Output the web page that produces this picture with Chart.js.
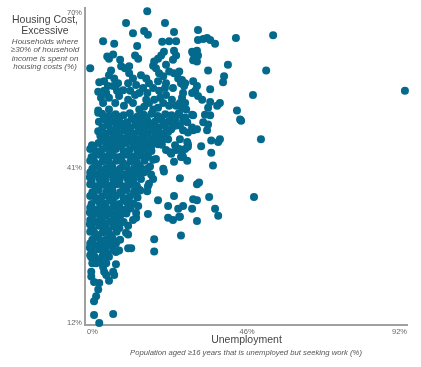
<!DOCTYPE html>
<html><head><meta charset="utf-8">
<script src="https://cdn.jsdelivr.net/npm/chart.js@4/dist/chart.umd.min.js"></script>
<style>html,body{margin:0;padding:0;background:#fff}</style>
</head><body>
<canvas id="c" width="421" height="367"></canvas>
<script>
// Tick labels
const xTickValues = [0, 46, 92];
const yTickValues = [12, 41, 70];

// Texts
const yTitle = ["Housing Cost,", "Excessive"];
const ySubtitle = ["Households where", "\u226530% of household", "income is spent on", "housing costs (%)"];
const xTitle = "Unemployment";
const xSubtitle = "Population aged \u226516 years that is unemployed but seeking work (%)";

// Each county: [unemployment %, excessive housing cost %]
const upperCounties = [
[17.3,70.4],[11.2,68.2],[22.4,68.2],[13.2,66.3],[16.4,66.7],[17.5,66.0],[25.0,66.5],[4.6,64.8],[7.8,64.3],[14.4,63.9],[21.6,64.7],[23.6,64.8],[25.6,64.8],[0.9,59.7],[5.8,61.9],[6.3,61.5],[7.5,62.3],[9.5,61.3],[13.8,62.1],[14.7,61.5],[22.1,62.8],[21.3,62.1],[20.4,61.5],[25.0,63.0],[25.6,62.1],[24.7,61.3],[19.3,61.0],[19.0,60.2],[22.7,60.4],[9.8,60.1],[10.9,59.7],[12.1,60.1],[6.9,59.3],[3.5,57.1],[3.2,55.3],[6.3,58.4],[7.8,57.8],[8.9,56.9],[7.5,56.4],[6.0,56.4],[5.5,55.1],[6.3,54.2],[12.1,58.8],[13.2,57.8],[11.8,56.9],[14.1,56.6],[15.5,58.4],[17.0,57.8],[17.8,56.9],[16.1,56.0],[15.0,55.1],[19.8,59.7],[20.7,58.8],[21.9,58.2],[20.4,57.3],[22.7,56.9],[23.6,59.1],[25.0,58.8],[26.5,59.1],[26.2,57.8],[27.0,56.9],[24.7,56.0],[19.0,56.0],[20.7,55.5],[22.7,54.7],[19.3,53.8],[21.9,53.2],[23.6,52.7],[10.4,55.6],[9.2,54.5],[11.8,53.8],[13.2,53.2],[10.6,52.7],[3.2,51.8],[6.3,52.0],[15.0,52.0],[19.0,52.0],[27.6,52.7],[27.6,55.1],[27.9,56.4],[17.0,53.8],[17.8,53.2],
[4.9,57.3],[4.6,53.2],[8.1,53.2],[21.0,54.2],[20.4,52.3],[16.4,52.5],[13.8,54.7],[8.6,55.5],[4.0,54.2],[4.9,55.5],[12.4,55.5],[17.3,55.1],[24.4,53.8],[25.6,52.7],[22.4,56.0]
];

const rightCounties = [
[31.9,66.9],[31.9,65.0],[33.4,65.2],[34.5,65.4],[35.4,65.0],[36.8,64.3],[42.8,65.4],[53.5,65.9],[30.2,62.8],[31.6,63.0],[31.9,62.1],[30.5,62.5],[30.5,61.2],[31.6,61.0],[40.5,60.4],[34.8,59.3],[51.5,59.3],[39.4,58.2],[39.1,57.1],[27.3,57.5],[28.2,56.9],[30.5,57.3],[31.6,56.4],[31.1,55.5],[30.2,55.1],[31.9,54.5],[33.1,53.8],[35.4,55.8],[47.7,54.7],[27.3,54.2],[26.7,53.2],[28.2,53.2],[27.3,52.3],[35.4,53.4],[34.8,52.3],[33.9,51.0],[35.4,50.9],[37.4,52.7],[38.2,53.2],[43.1,51.8],[44.3,49.9],[30.5,50.9],[28.2,50.5],[28.8,49.6],[26.7,49.0],[27.6,48.1],[29.0,47.7],[30.5,48.1],[30.2,48.6],[31.6,48.3],[33.4,49.6],[34.8,49.2],[34.5,48.1],[26.7,46.4],[28.8,45.9],[29.0,45.0],[28.2,44.6],[35.7,46.2],[37.7,45.9],[38.2,46.4],[50.0,46.4],[32.8,45.1],[35.7,43.9],[27.6,43.1],[28.8,42.4],[36.2,41.5],
[26.7,39.1],[31.6,38.0],[32.2,38.3],[35.1,35.6],[48.0,35.6],[31.6,35.0],[30.2,33.4],[36.8,33.4],[37.7,32.1],[26.7,31.9],[31.6,31.1],[27.0,28.4],
[91.4,55.5]
];

const middleCounties = [
[3.2,51.4],[19.8,48.1],[21.3,47.2],[22.7,47.7],[24.2,48.3],[25.6,49.0],[27.6,49.9],[26.5,51.0],[28.5,52.0],[18.4,46.4],[19.3,46.2],[20.4,45.5],[18.4,45.0],[22.7,44.4],[24.2,43.7],[25.6,44.4],[27.0,43.1],[25.0,42.2],[17.5,43.5],[19.0,42.6],[19.8,42.7],[21.9,40.9],[22.1,40.4],[18.4,39.8],[19.0,39.0],[17.8,38.1],[17.5,37.6],[25.0,35.8],[20.4,35.0],[23.3,33.9],[26.2,33.4],[27.6,33.9],[11.8,34.3],[12.1,33.4],[14.7,33.9],[14.1,32.6],[44.0,50.1],[30.2,51.0],[29.0,45.5],[23.3,46.4],[25.3,45.3],[23.9,44.0],[26.5,44.6],[27.3,43.5],[30.5,35.2],[18.1,41.3],[17.3,36.7]
];

const lowerCounties = [
[17.5,32.4],[23.3,31.7],[24.7,31.3],[26.5,31.9],[19.3,27.7],[19.3,25.4],[14.1,31.7],[13.2,31.3],[11.8,30.2],[11.2,28.9],[11.8,28.6],[11.8,26.0],[12.7,26.0],[9.2,25.6],[8.3,25.3],[8.3,23.0],[7.5,21.6],[7.8,21.0],[6.3,19.9],[1.2,21.6],[1.2,20.7],[2.0,19.7],[3.5,19.5],[3.2,18.3],[2.6,17.0],[2.0,16.1],[2.0,13.5],[7.5,13.7],[3.5,12.0],[5.5,23.2],[4.6,22.5],[4.9,21.6],[5.5,21.0],[1.7,23.8],[2.6,23.2],[1.2,24.3],[3.7,23.4]
];

const coreCounties = [
[4.3,51.2],[6.4,50.8],[8.2,51.1],[10.5,50.9],[12.3,51.3],[14.5,50.7],[16.3,51.0],[18.5,51.2],[20.3,50.8],[22.5,51.1],[24.3,50.9],[26.4,51.3],
[3.4,49.7],[5.2,50.1],[7.4,49.8],[9.2,50.0],[11.5,49.6],[13.3,50.2],[15.5,49.8],[17.3,50.0],[19.5,49.7],[21.3,50.1],[23.5,49.8],[25.3,50.0],
[4.4,48.6],[6.2,49.0],[8.4,48.7],[10.3,48.9],[12.5,48.6],[14.3,49.0],[16.5,48.7],[18.3,48.9],[20.5,48.6],[22.3,49.0],[24.5,48.7],
[3.2,47.9],[5.4,47.5],[7.2,47.8],[9.4,47.6],[11.3,47.9],[13.5,47.5],[15.3,47.8],[17.5,47.6],[19.3,47.9],[21.5,47.5],[23.3,47.8],
[4.2,46.8],[6.4,46.4],[8.3,46.7],[10.5,46.5],[12.3,46.8],[14.5,46.4],[16.3,46.7],[18.5,46.5],[20.3,46.8],[22.4,46.5],
[1.4,45.3],[3.3,45.7],[5.5,45.4],[7.3,45.6],[9.5,45.3],[11.3,45.7],[13.5,45.4],[15.3,45.6],[17.5,45.3],[19.3,45.7],[21.5,45.4],
[0.9,44.6],[2.4,44.2],[4.3,44.5],[6.5,44.3],[8.3,44.6],[10.5,44.2],[12.3,44.5],[14.5,44.3],[16.3,44.6],[18.5,44.2],
[1.3,43.1],[3.5,43.5],[5.3,43.2],[7.5,43.4],[9.3,43.1],[11.5,43.5],[13.3,43.2],[15.5,43.4],[17.3,43.1],
[0.9,42.4],[2.3,42.0],[4.5,42.3],[6.3,42.1],[8.5,42.4],[10.3,42.0],[12.5,42.3],[14.3,42.1],[16.5,42.4],
[1.5,40.9],[3.3,41.3],[5.5,41.0],[7.3,41.2],[9.5,40.9],[11.3,41.3],[13.5,41.0],[15.3,41.2],[17.3,40.9],
[0.9,40.2],[2.5,39.8],[4.3,40.1],[6.5,39.9],[8.3,40.2],[10.5,39.8],[12.3,40.1],[14.5,39.9],[16.3,40.2],
[1.3,38.7],[3.5,39.1],[5.3,38.8],[7.5,39.0],[9.3,38.7],[11.5,39.1],[13.3,38.8],[15.5,39.0],
[0.9,38.0],[2.3,37.6],[4.5,37.9],[6.3,37.7],[8.5,38.0],[10.3,37.6],[12.5,37.9],[14.3,37.7],
[1.5,36.5],[3.3,36.9],[5.5,36.6],[7.3,36.8],[9.5,36.5],[11.3,36.9],[13.5,36.6],[15.3,36.8],
[0.9,35.8],[2.5,35.4],[4.3,35.7],[6.5,35.5],[8.3,35.8],[10.5,35.4],[12.3,35.7],[14.5,35.5],
[1.3,34.3],[3.5,34.7],[5.3,34.4],[7.5,34.6],[9.3,34.3],[11.5,34.7],[13.3,34.4],
[0.9,33.6],[2.3,33.2],[4.5,33.5],[6.3,33.3],[8.5,33.6],[10.3,33.2],[12.5,33.5],
[1.5,32.1],[3.3,32.5],[5.5,32.2],[7.3,32.4],[9.5,32.1],[11.3,32.5],
[0.9,31.3],[2.5,30.9],[4.3,31.2],[6.5,31.0],[8.3,31.3],[10.5,30.9],
[1.3,29.8],[3.5,30.2],[5.3,29.9],[7.5,30.1],[9.3,29.8],
[0.9,29.1],[2.3,28.7],[4.5,29.0],[6.3,28.8],[8.5,29.1],
[1.5,27.6],[3.3,28.0],[5.5,27.7],[7.3,27.9],[9.5,27.6],
[0.9,26.9],[2.5,26.5],[4.3,26.8],[6.5,26.6],[8.3,26.9],
[1.3,25.4],[3.5,25.8],[5.3,25.5],[7.5,25.7],
[0.9,24.7],[2.3,24.3],[4.5,24.6],[6.3,24.4],
[1.5,23.2],[3.3,23.6],[5.3,23.3]
];

const denseCounties = [
[4.8,50.6],[8.8,50.7],[12.9,50.3],[16.9,50.4],[20.9,50.5],[24.9,50.6],
[5.8,49.5],[9.8,49.4],[13.9,49.3],[17.9,49.2],[21.9,49.6],
[6.8,48.1],[10.9,48.5],[14.9,48.4],[18.9,48.3],[22.9,48.2],
[3.8,47.1],[7.8,47.0],[11.9,47.4],[15.9,47.3],[19.9,47.2],
[4.8,46.2],[8.8,46.1],[12.9,46.0],[16.9,45.9],[20.9,46.3],
[1.8,44.9],[5.8,44.8],[9.8,45.2],[13.9,45.1],[17.9,45.0],
[2.8,44.0],[6.8,43.9],[10.9,43.8],[14.9,43.7],
[1.8,42.7],[5.8,42.6],[9.8,43.0],[13.9,42.9],
[2.8,41.7],[6.8,41.6],[10.9,41.5],[14.9,41.4],
[3.8,40.6],[7.8,40.5],[11.9,40.4],[15.9,40.3],
[0.8,39.3],[4.8,39.2],[8.8,39.6],[12.9,39.5],
[3.8,38.4],[7.8,38.3],[11.9,38.2],
[2.8,37.3],[6.8,37.2],[10.9,37.1],[14.9,37.0],
[1.8,36.0],[5.8,35.9],[9.8,36.3],[13.9,36.2],
[2.8,35.1],[6.8,35.0],[10.9,34.9],
[3.8,34.0],[7.8,33.9],[11.9,33.8],
[0.8,32.7],[4.8,32.6],[8.8,33.0],
[3.8,31.8],[7.8,31.7],
[0.8,30.5],[4.8,30.4],[8.8,30.8],
[1.8,29.4],[5.8,29.3],
[2.8,28.5],[6.8,28.4],
[3.8,27.4],[7.8,27.3],
[0.8,26.1],[4.8,26.0],
[1.8,25.0],[5.8,24.9]
];

const allCounties = [].concat(upperCounties, rightCounties, middleCounties, lowerCounties, coreCounties, denseCounties);

const FONT = "'Liberation Sans', Arial, sans-serif";
const DOT = '#036a8e';

const textPlugin = {
  id: 'texts',
  afterDraw(chart) {
    const ctx = chart.ctx;
    ctx.save();
    ctx.textAlign = 'center';
    ctx.textBaseline = 'middle';
    ctx.fillStyle = '#444';
    ctx.font = '10.5px ' + FONT;
    ctx.fillText(yTitle[0], 45, 20.5);
    ctx.fillText(yTitle[1], 45, 31.5);
    ctx.fillStyle = '#555';
    ctx.font = 'italic 8px ' + FONT;
    const ys = [41.5, 50, 58.5, 67];
    ySubtitle.forEach((t, i) => ctx.fillText(t, 45, ys[i]));
    ctx.fillStyle = '#444';
    ctx.font = '10.5px ' + FONT;
    ctx.fillText(xTitle, 246.5, 340.5);
    ctx.fillStyle = '#555';
    ctx.font = 'italic 7.7px ' + FONT;
    ctx.fillText(xSubtitle, 246, 352.5);
    ctx.restore();
  }
};

new Chart(document.getElementById('c'), {
  type: 'scatter',
  data: {
    datasets: [{
      data: allCounties.map(([x, y]) => ({ x, y })),
      backgroundColor: DOT,
      borderWidth: 0,
      pointRadius: 4,
      pointHoverRadius: 4,
      clip: false
    }]
  },
  options: {
    responsive: false,
    animation: false,
    layout: { padding: { top: 3, right: 14, left: 0, bottom: 0 } },
    plugins: { legend: { display: false }, tooltip: { enabled: false } },
    scales: {
      x: {
        type: 'linear', min: -0.6, max: 92,
        afterBuildTicks: s => { s.ticks = xTickValues.map(v => ({ value: v })); },
        afterFit: s => { s.height = 42; },
        grid: { display: false, drawTicks: false },
        border: { display: true, color: '#a0a0a0', width: 2 },
        ticks: { align: 'inner', padding: 2, maxRotation: 0, color: '#666', font: { family: FONT, size: 7.5 }, callback: v => v + '%' }
      },
      y: {
        type: 'linear', min: 11.63, max: 71.1,
        afterBuildTicks: s => { s.ticks = yTickValues.map(v => ({ value: v })); },
        afterFit: s => { s.width = 85; },
        grid: { display: false, drawTicks: false },
        border: { display: true, color: '#a0a0a0', width: 2 },
        ticks: { padding: 3, color: '#666', font: { family: FONT, size: 7.5 }, callback: v => v + '%' }
      }
    }
  },
  plugins: [textPlugin]
});
</script>
</body></html>
